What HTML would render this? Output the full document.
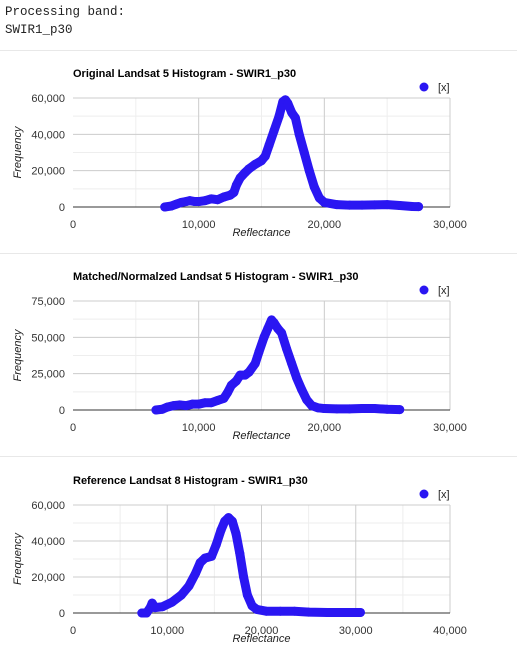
<!DOCTYPE html>
<html><head><meta charset="utf-8"><style>
body{margin:0;width:517px;height:658px;background:#fff;overflow:hidden;font-family:"Liberation Sans",Arial,sans-serif}
#hdr{position:absolute;left:5px;top:3px;font-family:"Liberation Mono",monospace;font-size:12.5px;line-height:18px;color:#222;white-space:pre}
.sep{position:absolute;left:0;width:517px;height:1px;background:#e8e8e8}
svg{position:absolute;left:0;top:0}
</style></head><body>
<div id="hdr">Processing band:
SWIR1_p30</div>
<div class="sep" style="top:50px"></div>
<div class="sep" style="top:253px"></div>
<div class="sep" style="top:456px"></div>
<svg id="svg" width="517" height="658"></svg>
<script>
// Chart 1: Original Landsat 5
const c1x=[7.3,7.8,8.2,8.6,9,9.3,9.7,10,10.5,11,11.5,12,12.5,12.8,13,13.3,13.7,14,14.5,15,15.3,15.6,16,16.4,16.7,16.9,17.1,17.4,17.7,18,18.4,18.8,19.2,19.6,20,21,22,23,24,25,26,27,27.5];
const c1y=[0,0.5,1.5,2.5,3,3.5,3,3,3.5,4.5,4,5.5,6.5,8,12,16,19,21,23.5,25.5,28,34,42,50,58,59,57,52,49,40,30,20,11,5,2.5,1.3,1,1,1.2,1.3,0.8,0.3,0.2];
// Chart 2: Matched/Normalized Landsat 5
const c2x=[6.6,7.1,7.5,8,8.5,9,9.5,10,10.5,11,11.5,12,12.3,12.6,13,13.3,13.7,14,14.5,14.8,15.2,15.5,15.8,16,16.3,16.6,17,17.4,17.8,18.2,18.6,19,19.5,20,21,22,23,24,25,26];
const c2y=[0,0.5,2,3,3.5,3,4,4,5,5,6.5,8,12,17,20,24,24,26,32,40,50,56,62,60,56,53,42,32,22,14,7,3,1.5,1,0.8,0.8,1,1,0.5,0.3];
// Chart 3: Reference Landsat 8
const c3x=[7.3,7.8,8.2,8.4,8.7,9.5,10.5,11.5,12.3,13,13.5,14,14.7,15.2,15.7,16.1,16.5,16.9,17.3,17.7,18.1,18.5,19,19.5,20.5,22,23.5,25,27,30.5];
const c3y=[0,0,3,5.5,3,3.5,6,10,15,22,28,30.5,31.5,38,46,51,53,51,44,33,20,10,4,2,1,1,1,0.5,0.3,0.3];
const yTicks1=[0,20000,40000,60000], yTicks2=[0,25000,50000,75000], yTicks3=[0,20000,40000,60000];
const xTicks12=[0,10000,20000,30000], xTicks3=[0,10000,20000,30000,40000];

const NS='http://www.w3.org/2000/svg', svg=document.getElementById('svg');
function mk(t,a,p){const e=document.createElementNS(NS,t);for(const k in a)e.setAttribute(k,a[k]);(p||svg).appendChild(e);return e;}
const fmt=v=>v.toLocaleString('en-US');
function chart(o){
  const g=mk('g',{});
  
  
  const L=73,R=450,T=o.top,B=o.bot,xmax=o.xt[o.xt.length-1],ymax=o.yt[o.yt.length-1];
  const X=v=>L+(v/xmax)*(R-L), Y=v=>B-(v/ymax)*(B-T);
  for(let i=0;i<o.xt.length-1;i++){const m=(o.xt[i]+o.xt[i+1])/2;mk('line',{x1:X(m),x2:X(m),y1:T,y2:B,stroke:'#eee'},g);}
  for(let i=0;i<o.yt.length-1;i++){const m=(o.yt[i]+o.yt[i+1])/2;mk('line',{x1:L,x2:R,y1:Y(m),y2:Y(m),stroke:'#eee'},g);}
  o.xt.forEach(v=>{if(v>0)mk('line',{x1:X(v),x2:X(v),y1:T,y2:B,stroke:'#ccc'},g);
    const t=mk('text',{x:X(v),y:B+21,'text-anchor':'middle','font-size':11,fill:'#333'},g);t.textContent=fmt(v);
    
    });
  o.yt.forEach(v=>{if(v>0)mk('line',{x1:L,x2:R,y1:Y(v),y2:Y(v),stroke:'#ccc'},g);
    const t=mk('text',{x:L-8,y:Y(v)+4,'text-anchor':'end','font-size':11,fill:'#333'},g);t.textContent=fmt(v);
    
    });
  mk('line',{x1:L,x2:R,y1:B,y2:B,stroke:'#333'},g);
  const ti=mk('text',{x:73,y:o.title_y,'font-size':11,'font-weight':'bold',fill:'#000'},g);ti.textContent=o.title;
  
  
  const xl=mk('text',{x:(L+R)/2,y:B+29,'text-anchor':'middle','font-size':11,'font-style':'italic',fill:'#222'},g);xl.textContent='Reflectance';
  
  
  const yl=mk('text',{x:0,y:0,'text-anchor':'middle','font-size':11,'font-style':'italic',fill:'#222',transform:`translate(21,${(T+B)/2}) rotate(-90)`},g);yl.textContent='Frequency';
  
  
  const lc=mk('circle',{cx:424,cy:T-11,r:4.5,fill:'#2a16f2'},g);
  
  
  const lt=mk('text',{x:438,y:T-7,'font-size':11,fill:'#222'},g);lt.textContent='[x]';
  
  
  const pts=o.xs.map((x,i)=>X(x*1000)+','+Y(o.ys[i]*1000)).join(' ');
  const pl=mk('polyline',{points:pts,fill:'none',stroke:'#2a16f2','stroke-width':9,'stroke-linejoin':'round','stroke-linecap':'round'},g);
  
  
  o.xs.forEach((x,i)=>{const c=mk('circle',{cx:X(x*1000),cy:Y(o.ys[i]*1000),r:4.5,fill:'#2a16f2'},g);
    
    });
}
chart({name:'original-landsat5-chart',title:'Original Landsat 5 Histogram - SWIR1_p30',title_y:77,top:98,bot:207,xt:xTicks12,yt:yTicks1,xs:c1x,ys:c1y});
chart({name:'matched-landsat5-chart',title:'Matched/Normalzed Landsat 5 Histogram - SWIR1_p30',title_y:280,top:301,bot:410,xt:xTicks12,yt:yTicks2,xs:c2x,ys:c2y});
chart({name:'reference-landsat8-chart',title:'Reference Landsat 8 Histogram - SWIR1_p30',title_y:484,top:505,bot:613,xt:xTicks3,yt:yTicks3,xs:c3x,ys:c3y});
</script>
</body></html>
